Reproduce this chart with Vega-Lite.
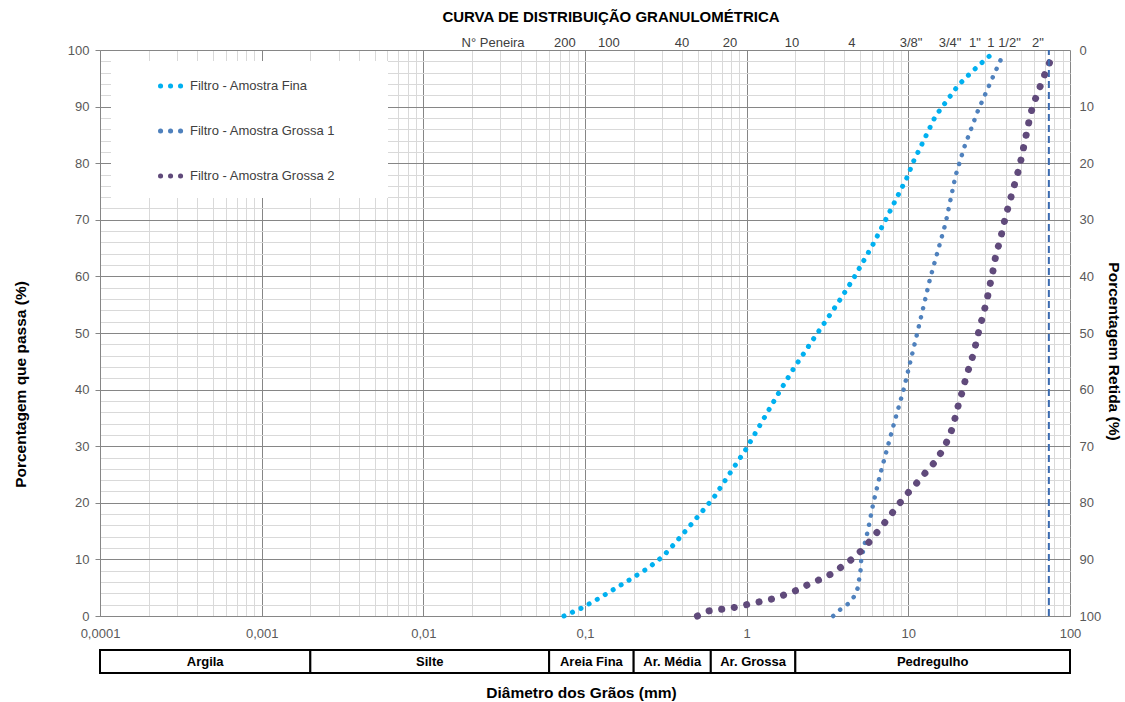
{
  "$schema": "https://vega.github.io/schema/vega-lite/v6.json",
  "width": 970,
  "height": 566,
  "autosize": {"type": "none"},
  "padding": {"left": 100, "top": 50, "right": 55, "bottom": 86},
  "background": "white",
  "config": {
    "view": {"stroke": null},
    "font": "Liberation Sans",
    "text": {"font": "Liberation Sans"}
  },
  "title": {
    "text": "CURVA DE DISTRIBUIÇÃO GRANULOMÉTRICA",
    "frame": "group",
    "anchor": "middle",
    "dx": 26,
    "offset": 12,
    "font": "Liberation Sans",
    "fontSize": 15,
    "fontWeight": "bold",
    "color": "#000000"
  },
  "datasets": {
    "curvas": [
      {"serie": "Filtro - Amostra Fina", "d": 0.0741, "p": 0},
      {"serie": "Filtro - Amostra Fina", "d": 0.0953, "p": 1.4},
      {"serie": "Filtro - Amostra Fina", "d": 0.12, "p": 3},
      {"serie": "Filtro - Amostra Fina", "d": 0.172, "p": 5.7},
      {"serie": "Filtro - Amostra Fina", "d": 0.244, "p": 8.4},
      {"serie": "Filtro - Amostra Fina", "d": 0.303, "p": 10.5},
      {"serie": "Filtro - Amostra Fina", "d": 0.364, "p": 13},
      {"serie": "Filtro - Amostra Fina", "d": 0.48, "p": 17},
      {"serie": "Filtro - Amostra Fina", "d": 0.622, "p": 20.8},
      {"serie": "Filtro - Amostra Fina", "d": 0.778, "p": 25},
      {"serie": "Filtro - Amostra Fina", "d": 0.987, "p": 29.4},
      {"serie": "Filtro - Amostra Fina", "d": 1.585, "p": 39.5},
      {"serie": "Filtro - Amostra Fina", "d": 1.97, "p": 43.9},
      {"serie": "Filtro - Amostra Fina", "d": 2.67, "p": 49.5},
      {"serie": "Filtro - Amostra Fina", "d": 3.65, "p": 55.2},
      {"serie": "Filtro - Amostra Fina", "d": 4.55, "p": 59.5},
      {"serie": "Filtro - Amostra Fina", "d": 5.98, "p": 65.4},
      {"serie": "Filtro - Amostra Fina", "d": 7.21, "p": 69.9},
      {"serie": "Filtro - Amostra Fina", "d": 8.18, "p": 73},
      {"serie": "Filtro - Amostra Fina", "d": 9.86, "p": 77.6},
      {"serie": "Filtro - Amostra Fina", "d": 10.9, "p": 80.7},
      {"serie": "Filtro - Amostra Fina", "d": 11.6, "p": 82.2},
      {"serie": "Filtro - Amostra Fina", "d": 14.7, "p": 88.3},
      {"serie": "Filtro - Amostra Fina", "d": 20.4, "p": 93.8},
      {"serie": "Filtro - Amostra Fina", "d": 24.8, "p": 96.2},
      {"serie": "Filtro - Amostra Fina", "d": 30.2, "p": 98.4},
      {"serie": "Filtro - Amostra Fina", "d": 34.5, "p": 99.8},
      {"serie": "Filtro - Amostra Grossa 1", "d": 3.43, "p": 0},
      {"serie": "Filtro - Amostra Grossa 1", "d": 3.78, "p": 1.1},
      {"serie": "Filtro - Amostra Grossa 1", "d": 4.22, "p": 2.1},
      {"serie": "Filtro - Amostra Grossa 1", "d": 4.61, "p": 3.4},
      {"serie": "Filtro - Amostra Grossa 1", "d": 4.86, "p": 4.9},
      {"serie": "Filtro - Amostra Grossa 1", "d": 4.97, "p": 6.6},
      {"serie": "Filtro - Amostra Grossa 1", "d": 5.07, "p": 8.2},
      {"serie": "Filtro - Amostra Grossa 1", "d": 5.11, "p": 9.9},
      {"serie": "Filtro - Amostra Grossa 1", "d": 5.27, "p": 11.7},
      {"serie": "Filtro - Amostra Grossa 1", "d": 5.43, "p": 13.3},
      {"serie": "Filtro - Amostra Grossa 1", "d": 5.61, "p": 15},
      {"serie": "Filtro - Amostra Grossa 1", "d": 6.07, "p": 19.9},
      {"serie": "Filtro - Amostra Grossa 1", "d": 6.68, "p": 24.9},
      {"serie": "Filtro - Amostra Grossa 1", "d": 7.45, "p": 29.9},
      {"serie": "Filtro - Amostra Grossa 1", "d": 8.3, "p": 34.8},
      {"serie": "Filtro - Amostra Grossa 1", "d": 9.31, "p": 39.8},
      {"serie": "Filtro - Amostra Grossa 1", "d": 11.27, "p": 49.6},
      {"serie": "Filtro - Amostra Grossa 1", "d": 13.6, "p": 59.5},
      {"serie": "Filtro - Amostra Grossa 1", "d": 17, "p": 69.4},
      {"serie": "Filtro - Amostra Grossa 1", "d": 19.6, "p": 77.8},
      {"serie": "Filtro - Amostra Grossa 1", "d": 22.1, "p": 82.7},
      {"serie": "Filtro - Amostra Grossa 1", "d": 26.7, "p": 89},
      {"serie": "Filtro - Amostra Grossa 1", "d": 33.3, "p": 95.2},
      {"serie": "Filtro - Amostra Grossa 1", "d": 38.3, "p": 99},
      {"serie": "Filtro - Amostra Grossa 2", "d": 0.496, "p": 0},
      {"serie": "Filtro - Amostra Grossa 2", "d": 0.585, "p": 0.9},
      {"serie": "Filtro - Amostra Grossa 2", "d": 0.7, "p": 1.2},
      {"serie": "Filtro - Amostra Grossa 2", "d": 0.837, "p": 1.5},
      {"serie": "Filtro - Amostra Grossa 2", "d": 1.0, "p": 2},
      {"serie": "Filtro - Amostra Grossa 2", "d": 1.197, "p": 2.5},
      {"serie": "Filtro - Amostra Grossa 2", "d": 1.43, "p": 3},
      {"serie": "Filtro - Amostra Grossa 2", "d": 1.7, "p": 3.7},
      {"serie": "Filtro - Amostra Grossa 2", "d": 2.02, "p": 4.5},
      {"serie": "Filtro - Amostra Grossa 2", "d": 2.38, "p": 5.5},
      {"serie": "Filtro - Amostra Grossa 2", "d": 2.81, "p": 6.4},
      {"serie": "Filtro - Amostra Grossa 2", "d": 3.32, "p": 7.4},
      {"serie": "Filtro - Amostra Grossa 2", "d": 3.87, "p": 8.7},
      {"serie": "Filtro - Amostra Grossa 2", "d": 4.46, "p": 10},
      {"serie": "Filtro - Amostra Grossa 2", "d": 5.1, "p": 11.5},
      {"serie": "Filtro - Amostra Grossa 2", "d": 5.78, "p": 13.2},
      {"serie": "Filtro - Amostra Grossa 2", "d": 6.49, "p": 15},
      {"serie": "Filtro - Amostra Grossa 2", "d": 7.28, "p": 16.8},
      {"serie": "Filtro - Amostra Grossa 2", "d": 8.15, "p": 18.6},
      {"serie": "Filtro - Amostra Grossa 2", "d": 9.1, "p": 20.4},
      {"serie": "Filtro - Amostra Grossa 2", "d": 10.2, "p": 22.1},
      {"serie": "Filtro - Amostra Grossa 2", "d": 11.6, "p": 23.9},
      {"serie": "Filtro - Amostra Grossa 2", "d": 13.0, "p": 25.6},
      {"serie": "Filtro - Amostra Grossa 2", "d": 14.7, "p": 27.3},
      {"serie": "Filtro - Amostra Grossa 2", "d": 16.2, "p": 29.2},
      {"serie": "Filtro - Amostra Grossa 2", "d": 17.6, "p": 31.2},
      {"serie": "Filtro - Amostra Grossa 2", "d": 18.8, "p": 33.3},
      {"serie": "Filtro - Amostra Grossa 2", "d": 19.7, "p": 35.6},
      {"serie": "Filtro - Amostra Grossa 2", "d": 20.6, "p": 37.8},
      {"serie": "Filtro - Amostra Grossa 2", "d": 21.7, "p": 39.9},
      {"serie": "Filtro - Amostra Grossa 2", "d": 22.7, "p": 42.1},
      {"serie": "Filtro - Amostra Grossa 2", "d": 24.0, "p": 44.3},
      {"serie": "Filtro - Amostra Grossa 2", "d": 25.4, "p": 46.5},
      {"serie": "Filtro - Amostra Grossa 2", "d": 26.4, "p": 48.6},
      {"serie": "Filtro - Amostra Grossa 2", "d": 27.6, "p": 50.9},
      {"serie": "Filtro - Amostra Grossa 2", "d": 28.9, "p": 53},
      {"serie": "Filtro - Amostra Grossa 2", "d": 30.6, "p": 55.8},
      {"serie": "Filtro - Amostra Grossa 2", "d": 32.0, "p": 58.5},
      {"serie": "Filtro - Amostra Grossa 2", "d": 33.4, "p": 61},
      {"serie": "Filtro - Amostra Grossa 2", "d": 34.8, "p": 63.8},
      {"serie": "Filtro - Amostra Grossa 2", "d": 37.1, "p": 66.6},
      {"serie": "Filtro - Amostra Grossa 2", "d": 38.5, "p": 68.6},
      {"serie": "Filtro - Amostra Grossa 2", "d": 40.0, "p": 70.7},
      {"serie": "Filtro - Amostra Grossa 2", "d": 42.1, "p": 72.9},
      {"serie": "Filtro - Amostra Grossa 2", "d": 44.2, "p": 75.1},
      {"serie": "Filtro - Amostra Grossa 2", "d": 46.5, "p": 77.3},
      {"serie": "Filtro - Amostra Grossa 2", "d": 48.8, "p": 79.5},
      {"serie": "Filtro - Amostra Grossa 2", "d": 50.7, "p": 81.7},
      {"serie": "Filtro - Amostra Grossa 2", "d": 52.6, "p": 83.9},
      {"serie": "Filtro - Amostra Grossa 2", "d": 54.7, "p": 86.2},
      {"serie": "Filtro - Amostra Grossa 2", "d": 56.7, "p": 88.4},
      {"serie": "Filtro - Amostra Grossa 2", "d": 59.6, "p": 90.6},
      {"serie": "Filtro - Amostra Grossa 2", "d": 63.6, "p": 92.6},
      {"serie": "Filtro - Amostra Grossa 2", "d": 67.7, "p": 94.8},
      {"serie": "Filtro - Amostra Grossa 2", "d": 72.9, "p": 96.9},
      {"serie": "Filtro - Amostra Grossa 2", "d": 77.6, "p": 99.1}
    ],
    "peneiras": [
      {"d": 0.027, "rotulo": "N° Peneira"},
      {"d": 0.0751, "rotulo": "200"},
      {"d": 0.1406, "rotulo": "100"},
      {"d": 0.398, "rotulo": "40"},
      {"d": 0.789, "rotulo": "20"},
      {"d": 1.906, "rotulo": "10"},
      {"d": 4.48, "rotulo": "4"},
      {"d": 10.4, "rotulo": "3/8\""},
      {"d": 18.1, "rotulo": "3/4\""},
      {"d": 25.8, "rotulo": "1\""},
      {"d": 39.1, "rotulo": "1 1/2\""},
      {"d": 63.4, "rotulo": "2\""}
    ],
    "classes": [
      {"lo": 0.0001, "hi": 0.002, "nome": "Argila"},
      {"lo": 0.002, "hi": 0.06, "nome": "Silte"},
      {"lo": 0.06, "hi": 0.2, "nome": "Areia Fina"},
      {"lo": 0.2, "hi": 0.6, "nome": "Ar. Média"},
      {"lo": 0.6, "hi": 2, "nome": "Ar. Grossa"},
      {"lo": 2, "hi": 100, "nome": "Pedregulho"}
    ],
    "limite": [{"d": 74, "p0": 0, "p1": 100}]
  },
  "layer": [
    {
      "data": {"name": "curvas"},
      "transform": [{"filter": "datum.serie == 'Filtro - Amostra Fina'"}],
      "mark": {"type": "line", "strokeCap": "round", "strokeJoin": "round", "strokeWidth": 5, "strokeDash": [0.1, 9.2]},
      "encoding": {
        "x": {
          "field": "d",
          "type": "quantitative",
          "scale": {"type": "log", "domain": [0.0001, 100], "nice": false},
          "axis": {
            "values": [0.0001,0.0002,0.0003,0.0004,0.0005,0.0006,0.0007,0.0008,0.0009,0.001,0.002,0.003,0.004,0.005,0.006,0.007,0.008,0.009,0.01,0.02,0.03,0.04,0.05,0.06,0.07,0.08,0.09,0.1,0.2,0.3,0.4,0.5,0.6,0.7,0.8,0.9,1,2,3,4,5,6,7,8,9,10,20,30,40,50,60,70,80,90,100],
            "labelExpr": "abs(log(datum.value)/LN10 - round(log(datum.value)/LN10)) < 0.000001 ? replace(format(datum.value, '~g'), '.', ',') : ''",
            "labelOverlap": false,
            "labelFlush": false,
            "labelBound": false,
            "labelFont": "Liberation Sans",
            "labelFontSize": 13,
            "labelColor": "#595959",
            "labelPadding": 11,
            "ticks": false,
            "domainColor": "#868686",
            "grid": true,
            "gridColor": {"condition": {"test": "abs(log(datum.value)/LN10 - round(log(datum.value)/LN10)) < 0.000001", "value": "#868686"}, "value": "#D9D9D9"},
            "gridWidth": 1,
            "title": "Diâmetro dos Grãos (mm)",
            "titleFont": "Liberation Sans",
            "titleFontSize": 15.5,
            "titleFontWeight": "bold",
            "titleColor": "#000000",
            "titleX": 481,
            "titleY": 76,
            "titleBaseline": "middle",
            "titleAlign": "center"
          }
        },
        "y": {
          "field": "p",
          "type": "quantitative",
          "scale": {"domain": [0, 100], "nice": false},
          "axis": {
            "orient": "left",
            "values": [0,2,4,6,8,10,12,14,16,18,20,22,24,26,28,30,32,34,36,38,40,42,44,46,48,50,52,54,56,58,60,62,64,66,68,70,72,74,76,78,80,82,84,86,88,90,92,94,96,98,100],
            "labelExpr": "datum.value % 10 == 0 ? datum.label : ''",
            "labelOverlap": false,
            "labelFlush": false,
            "labelFont": "Liberation Sans",
            "labelFontSize": 13,
            "labelColor": "#595959",
            "labelPadding": 6,
            "tickSize": 5,
            "tickColor": "#868686",
            "tickOpacity": {"condition": {"test": "datum.value % 10 == 0", "value": 1}, "value": 0},
            "domainColor": "#868686",
            "grid": true,
            "gridColor": {"condition": {"test": "datum.value % 10 == 0", "value": "#868686"}, "value": "#D9D9D9"},
            "gridWidth": 1,
            "title": "Porcentagem que passa (%)",
            "titleFont": "Liberation Sans",
            "titleFontSize": 15.5,
            "titleFontWeight": "bold",
            "titleColor": "#000000",
            "titleX": -80,
            "titleY": 334,
            "titleAngle": -90,
            "titleBaseline": "middle",
            "titleAlign": "center"
          }
        },
        "color": {
          "field": "serie",
          "type": "nominal",
          "scale": {
            "domain": ["Filtro - Amostra Fina", "Filtro - Amostra Grossa 1", "Filtro - Amostra Grossa 2"],
            "range": ["#00B0F0", "#4F81BD", "#604A7B"]
          },
          "legend": {
            "orient": "none",
            "legendX": 11,
            "legendY": 11,
            "direction": "vertical",
            "title": "\u00a0",
            "titleOrient": "right",
            "titlePadding": 41,
            "titleFontSize": 13,
            "fillColor": "white",
            "padding": 12,
            "symbolType": "stroke",
            "symbolSize": 441,
            "symbolStrokeWidth": 5,
            "symbolDash": [0.1, 9.9],
            "symbolOffset": 35,
            "labelFont": "Liberation Sans",
            "labelFontSize": 13,
            "labelColor": "#404040",
            "labelOffset": 6,
            "labelLimit": 400,
            "rowPadding": 22,
            "encode": {"symbols": {"update": {"strokeCap": {"value": "round"}, "strokeDash": {"value": [0.1, 9.9]}, "strokeWidth": {"value": 5}}}}
          }
        }
      }
    },
    {
      "data": {"name": "curvas"},
      "transform": [{"filter": "datum.serie == 'Filtro - Amostra Grossa 1'"}],
      "mark": {"type": "line", "strokeCap": "round", "strokeJoin": "round", "strokeWidth": 4.5, "strokeDash": [0.1, 9.2]},
      "encoding": {
        "x": {"field": "d", "type": "quantitative"},
        "y": {"field": "p", "type": "quantitative", "axis": null},
        "color": {"field": "serie", "type": "nominal"}
      }
    },
    {
      "data": {"name": "curvas"},
      "transform": [{"filter": "datum.serie == 'Filtro - Amostra Grossa 2'"}],
      "mark": {"type": "line", "strokeCap": "round", "strokeJoin": "round", "strokeWidth": 7, "strokeDash": [0.1, 12.6]},
      "encoding": {
        "x": {"field": "d", "type": "quantitative"},
        "y": {"field": "p", "type": "quantitative", "axis": null},
        "color": {"field": "serie", "type": "nominal"}
      }
    },
    {
      "data": {"name": "limite"},
      "mark": {"type": "rule", "color": "#3B6BB0", "strokeWidth": 2, "strokeDash": [7, 4]},
      "encoding": {
        "x": {"field": "d", "type": "quantitative"},
        "y": {
          "field": "p0",
          "type": "quantitative",
          "axis": {
            "orient": "right",
            "values": [0,10,20,30,40,50,60,70,80,90,100],
            "labelExpr": "format(100 - datum.value, 'd')",
            "labelFont": "Liberation Sans",
            "labelFontSize": 13,
            "labelColor": "#595959",
            "labelPadding": 9,
            "labelFlush": false,
            "ticks": false,
            "domain": false,
            "grid": false,
            "title": "Porcentagem Retida (%)",
            "titleFont": "Liberation Sans",
            "titleFontSize": 15.5,
            "titleFontWeight": "bold",
            "titleColor": "#000000",
            "titleX": 43,
            "titleY": 301,
            "titleAngle": 90,
            "titleBaseline": "middle",
            "titleAlign": "center"
          }
        },
        "y2": {"field": "p1"}
      }
    },
    {
      "data": {"name": "peneiras"},
      "mark": {"type": "text", "font": "Liberation Sans", "fontSize": 13, "color": "#404040", "baseline": "middle", "align": "center"},
      "encoding": {
        "x": {"field": "d", "type": "quantitative"},
        "y": {"datum": 101.3, "type": "quantitative", "axis": null},
        "text": {"field": "rotulo"}
      }
    },
    {
      "data": {"name": "classes"},
      "mark": {"type": "rect", "fill": "white", "stroke": "#000000", "strokeWidth": 2},
      "encoding": {
        "x": {"field": "lo", "type": "quantitative"},
        "x2": {"field": "hi"},
        "y": {"datum": -6, "type": "quantitative", "axis": null},
        "y2": {"datum": -10.07}
      }
    },
    {
      "data": {"name": "classes"},
      "transform": [{"calculate": "sqrt(datum.lo * datum.hi)", "as": "meio"}],
      "mark": {"type": "text", "font": "Liberation Sans", "fontSize": 13, "fontWeight": "bold", "color": "#000000", "baseline": "middle", "align": "center"},
      "encoding": {
        "x": {"field": "meio", "type": "quantitative"},
        "y": {"datum": -8.05, "type": "quantitative", "axis": null},
        "text": {"field": "nome"}
      }
    }
  ],
  "resolve": {"axis": {"y": "independent"}}
}
